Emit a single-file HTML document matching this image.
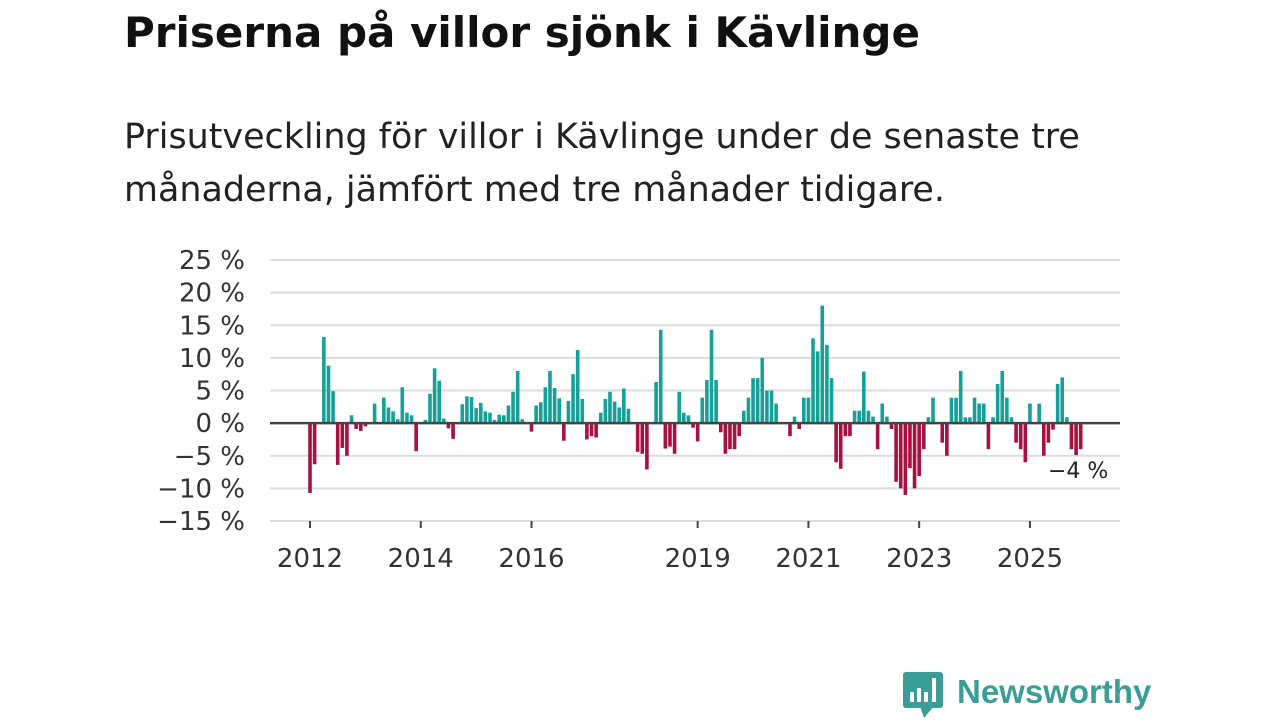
<!DOCTYPE html>
<html><head><meta charset="utf-8"><style>
body{margin:0;width:1280px;height:720px;background:#fff;overflow:hidden;font-family:"DejaVu Sans","Liberation Sans",sans-serif;}
#title{position:absolute;left:124px;top:8px;font-size:42px;font-weight:bold;color:#111;margin:0;white-space:nowrap}
#subtitle{position:absolute;left:124px;top:111px;font-size:34.9px;line-height:53px;color:#222;margin:0;white-space:nowrap}
svg{position:absolute;left:0;top:0}
</style></head><body>
<h1 id="title">Priserna på villor sjönk i Kävlinge</h1>
<p id="subtitle">Prisutveckling för villor i Kävlinge under de senaste tre<br>månaderna, jämfört med tre månader tidigare.</p>
<svg id="chart" width="1280" height="720"></svg>
<script>
const monthIdx=[0,1,3,4,5,6,7,8,9,10,11,12,14,16,17,18,19,20,21,22,23,25,26,27,28,29,30,31,33,34,35,36,37,38,39,40,41,42,43,44,45,46,48,49,50,51,52,53,54,55,56,57,58,59,60,61,62,63,64,65,66,67,68,69,71,72,73,75,76,77,78,79,80,81,82,83,84,85,86,87,88,89,90,91,92,93,94,95,96,97,98,99,100,101,104,105,106,107,108,109,110,111,112,113,114,115,116,117,118,119,120,121,122,123,124,125,126,127,128,129,130,131,132,133,134,135,137,138,139,140,141,142,143,144,145,146,147,148,149,150,151,152,153,154,155,156,158,159,160,161,162,163,164,165,166,167];
const values=[-10.7,-6.3,13.2,8.8,4.9,-6.4,-3.8,-5.0,1.2,-0.9,-1.2,-0.5,3.0,3.9,2.4,1.8,0.6,5.5,1.6,1.2,-4.3,0.5,4.5,8.4,6.5,0.7,-0.8,-2.4,2.9,4.1,4.0,2.3,3.1,1.8,1.6,0.5,1.3,1.2,2.7,4.8,8.0,0.6,-1.3,2.7,3.2,5.5,8.0,5.4,3.8,-2.7,3.4,7.5,11.2,3.7,-2.5,-2.0,-2.2,1.6,3.7,4.8,3.3,2.4,5.3,2.2,-4.4,-4.7,-7.1,6.3,14.3,-3.9,-3.6,-4.7,4.8,1.6,1.2,-0.7,-2.8,3.9,6.6,14.3,6.6,-1.4,-4.7,-4.0,-4.0,-2.0,1.9,3.9,6.9,6.9,10.0,5.0,5.0,3.0,-2.0,1.0,-0.9,3.9,3.9,13.0,11.0,18.0,12.0,6.9,-6.0,-7.0,-2.0,-2.0,1.9,1.9,7.9,1.9,1.0,-4.0,3.0,1.0,-0.9,-9.0,-10.0,-11.0,-6.9,-10.0,-8.1,-4.0,0.9,3.9,-3.0,-5.0,3.9,3.9,8.0,0.9,0.9,3.9,3.0,3.0,-4.0,0.9,6.0,8.0,3.9,0.9,-3.0,-4.0,-6.0,3.0,3.0,-5.0,-3.0,-1.0,6.0,7.0,0.9,-4.0,-4.9,-4.0];
const yTicks=[25,20,15,10,5,0,-5,-10,-15];
const xYears=[2012,2014,2016,2019,2021,2023,2025];
const lastLabel="−4 %";

const NS="http://www.w3.org/2000/svg";
const svg=document.getElementById('chart');
const X0=270,X1=1120,Y25=260,Yn15=521;
const y=v=>Y25+(25-v)*(Yn15-Y25)/40;
const xm=i=>310+i*4.615;
function el(tag,attrs,parent){const e=document.createElementNS(NS,tag);for(const k in attrs)e.setAttribute(k,attrs[k]);(parent||svg).appendChild(e);return e;}
yTicks.forEach(t=>{
  if(t!==0){const g=el('line',{x1:X0,x2:X1,y1:y(t),y2:y(t),stroke:'#dcdcdc','stroke-width':2});
  
  }
  const tx=el('text',{x:245,y:y(t)+9,'text-anchor':'end','font-size':26,fill:'#333'});
  tx.textContent=(t<0?'−'+(-t):t)+' %';
  
  
});
xYears.forEach(yr=>{
  const i=(yr-2012)*12;
  const tk=el('line',{x1:xm(i),x2:xm(i),y1:Yn15,y2:Yn15+7,stroke:'#444','stroke-width':2});
  
  
  const tx=el('text',{x:xm(i),y:567,'text-anchor':'middle','font-size':26,fill:'#333'});
  tx.textContent=yr;
  
  
});
monthIdx.forEach((m,k)=>{
  const v=values[k];const x=xm(m);
  const top=v>=0?y(v):y(0),h=Math.abs(y(v)-y(0));
  const r=el('rect',{x:x-1.8,y:top,width:3.6,height:h,fill:v>=0?'#16a098':'#a6113f'});
  
  
});
const zl=el('line',{x1:X0,x2:X1,y1:y(0),y2:y(0),stroke:'#444','stroke-width':2.5});


const lv=el('text',{x:1048,y:478,'font-size':22,fill:'#222'});
lv.textContent=lastLabel;


const lg=el('g',{});


el('rect',{x:903,y:672,width:40,height:36,rx:3,fill:'#3a9e96'},lg);
el('polygon',{points:'920,706 934,706 924,718',fill:'#3a9e96'},lg);
[[910,692,4,10],[917,688,4,14],[924,692,4,10],[932,678,4,24]].forEach(b=>el('rect',{x:b[0],y:b[1],width:b[2],height:b[3],fill:'#fff',rx:1},lg));
const lt=el('text',{x:957,y:703,'font-size':33,'font-weight':'bold',fill:'#3a9e96','font-family':'Liberation Sans, sans-serif'},lg);
lt.textContent='Newsworthy';
</script>
</body></html>
